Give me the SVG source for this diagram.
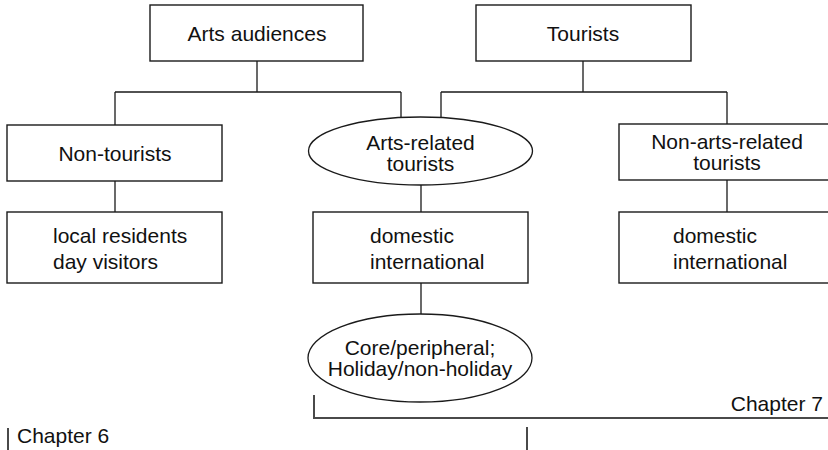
<svg xmlns="http://www.w3.org/2000/svg" width="828" height="450" viewBox="0 0 828 450">
  <style>
    .box { fill: #ffffff; stroke: #1a1a1a; stroke-width: 1.4; }
    .oval { fill: #ffffff; stroke: #1a1a1a; stroke-width: 1.3; }
    .link { fill: none; stroke: #1a1a1a; stroke-width: 1.3; }
    .bracket { fill: none; stroke: #4a4a4a; stroke-width: 2; }
    text { font-family: "Liberation Sans", Arial, Helvetica, sans-serif; font-size: 21px; fill: #111111; }
    .c { text-anchor: middle; }
  </style>
  <rect width="828" height="450" fill="#ffffff"/>

  <!-- tree connectors -->
  <g id="connectors">
    <path class="link" d="M257 61 V92 M115 92 H401 M115 92 V125 M401 92 V118"/>
    <path class="link" d="M583 61 V92 M441 92 H727 M441 92 V118 M727 92 V124"/>
    <path class="link" d="M115 181 V212"/>
    <path class="link" d="M421 185 V212"/>
    <path class="link" d="M421 283 V315"/>
    <path class="link" d="M727 180 V212"/>
  </g>

  <g id="arts-audiences">
    <rect class="box" x="150" y="5" width="213" height="56"/>
    <text class="c" x="257" y="41">Arts audiences</text>
  </g>

  <g id="tourists">
    <rect class="box" x="476" y="5" width="215" height="56"/>
    <text class="c" x="583" y="41">Tourists</text>
  </g>

  <g id="non-tourists">
    <rect class="box" x="7" y="125" width="215" height="56"/>
    <text class="c" x="115" y="161">Non-tourists</text>
  </g>

  <g id="arts-related-tourists">
    <ellipse class="oval" cx="420.5" cy="151" rx="112" ry="34"/>
    <text class="c" x="420.5" y="150">Arts-related</text>
    <text class="c" x="420.5" y="171">tourists</text>
  </g>

  <g id="non-arts-related-tourists">
    <rect class="box" x="619" y="124" width="220" height="56"/>
    <text class="c" x="727" y="149">Non-arts-related</text>
    <text class="c" x="727" y="170">tourists</text>
  </g>

  <g id="local-day">
    <rect class="box" x="7" y="212" width="215" height="71"/>
    <text x="53" y="243">local residents</text>
    <text x="53" y="269">day visitors</text>
  </g>

  <g id="arts-domestic-international">
    <rect class="box" x="313" y="212" width="215" height="71"/>
    <text x="370" y="243">domestic</text>
    <text x="370" y="269">international</text>
  </g>

  <g id="non-arts-domestic-international">
    <rect class="box" x="619" y="212" width="220" height="71"/>
    <text x="673" y="243">domestic</text>
    <text x="673" y="269">international</text>
  </g>

  <g id="core-holiday">
    <ellipse class="oval" cx="420" cy="358" rx="112" ry="44"/>
    <text class="c" x="420" y="355">Core/peripheral;</text>
    <text class="c" x="420" y="376">Holiday/non-holiday</text>
  </g>

  <!-- chapter brackets -->
  <g id="chapter-7">
    <path class="bracket" d="M314 395 V418 H828"/>
    <text x="823" y="411" text-anchor="end">Chapter 7</text>
  </g>
  <g id="chapter-6">
    <path class="bracket" d="M8 428 V450"/>
    <path class="bracket" d="M527 427 V450"/>
    <text x="17" y="443">Chapter 6</text>
  </g>
</svg>
